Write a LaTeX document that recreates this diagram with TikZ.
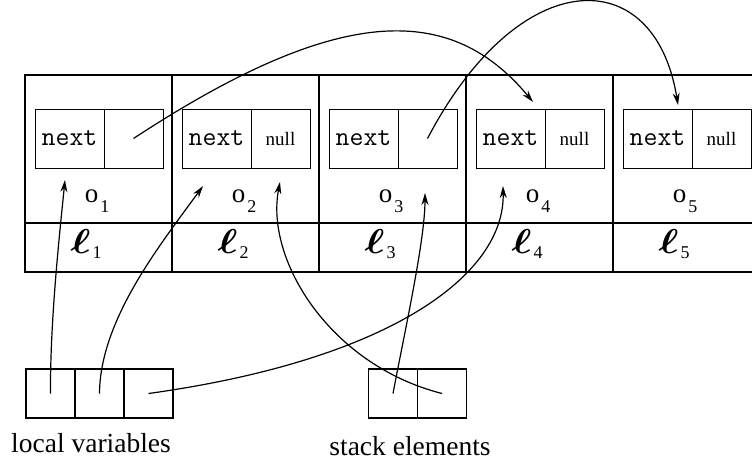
\RequirePackage{fix-cm}
\documentclass[tikz,border=0pt]{standalone}
\usepackage{graphicx}
\usepackage{bm}
\usepackage{fontspec}
\setmainfont{Liberation Serif}
\usetikzlibrary{arrows.meta,positioning}

\newcommand{\objname}[1]{o\hspace{2pt}\raisebox{-10pt}{\fontsize{18}{20}\selectfont #1}}
\newcommand{\locname}[1]{\resizebox{20pt}{24pt}{$\bm{\ell}$}\hspace{2pt}\raisebox{-5pt}{\fontsize{18}{20}\selectfont #1}}

\begin{document}
\begin{tikzpicture}[x=1pt,y=-1pt,->,>={Stealth[length=12pt,width=7pt]},
    line width=1.2pt,node distance=147pt]
  \tikzstyle{objcell}=[draw,rectangle,inner sep=0pt,line width=1.4pt,minimum width=147pt,minimum height=148pt]
  \tikzstyle{loccell}=[objcell,minimum height=49pt]
  \tikzstyle{field}=[draw,rectangle,inner sep=0pt,outer sep=0pt,line width=0.9pt,minimum height=59pt]
  \tikzstyle{ptrname}=[field,minimum width=69pt,font=\fontsize{27}{30}\selectfont\ttfamily]
  \tikzstyle{ptrval}=[field,minimum width=59pt,font=\fontsize{19}{22}\selectfont]
  \tikzstyle{slot}=[draw,rectangle,inner sep=0pt,outer sep=0pt,line width=1.2pt,minimum size=49pt]
  \tikzstyle{objlab}=[inner sep=0pt,font=\fontsize{27}{30}\selectfont]
  \tikzstyle{loclab}=[inner sep=0pt,font=\fontsize{24.88}{30}\selectfont]
  \tikzstyle{caption}=[inner sep=0pt,font=\fontsize{27.5}{32}\selectfont]

  \useasboundingbox (0,0) rectangle (752,463);

  % objects and their locations
  \node[objcell] (c1) at (98.5,149)  {};
  \node[objcell] (c2) [right of=c1] {};
  \node[objcell] (c3) [right of=c2] {};
  \node[objcell] (c4) [right of=c3] {};
  \node[objcell] (c5) [right of=c4] {};
  \node[loccell] (r1) at (98.5,247.5) {};
  \node[loccell] (r2) [right of=r1] {};
  \node[loccell] (r3) [right of=r2] {};
  \node[loccell] (r4) [right of=r3] {};
  \node[loccell] (r5) [right of=r4] {};

  \node[ptrname] (n1) at (69.5,138.5) {next};
  \node[ptrname] (n2) [right of=n1]   {next};
  \node[ptrname] (n3) [right of=n2]   {next};
  \node[ptrname] (n4) [right of=n3]   {next};
  \node[ptrname] (n5) [right of=n4]   {next};
  \node[ptrval]  (v1) [right=0pt of n1] {};
  \node[ptrval]  (v2) [right=0pt of n2] {null};
  \node[ptrval]  (v3) [right=0pt of n3] {};
  \node[ptrval]  (v4) [right=0pt of n4] {null};
  \node[ptrval]  (v5) [right=0pt of n5] {null};

  \node[objlab] (o1) at (97,201)    {\objname{1}};
  \node[objlab] (o2) [right of=o1] {\objname{2}};
  \node[objlab] (o3) [right of=o2] {\objname{3}};
  \node[objlab] (o4) [right of=o3] {\objname{4}};
  \node[objlab] (o5) [right of=o4] {\objname{5}};
  \node[loclab] (e1) at (86,244)    {\locname{1}};
  \node[loclab] (e2) [right of=e1] {\locname{2}};
  \node[loclab] (e3) [right of=e2] {\locname{3}};
  \node[loclab] (e4) [right of=e3] {\locname{4}};
  \node[loclab] (e5) [right of=e4] {\locname{5}};

  % roots
  \node[slot] (lv1) at (50.5,393.5)     {};
  \node[slot] (lv2) [right=0pt of lv1] {};
  \node[slot] (lv3) [right=0pt of lv2] {};
  \node[slot] (se1) at (393,393.5)      {};
  \node[slot] (se2) [right=0pt of se1] {};
  \node[caption] (lvtxt) at (91,443.5) {local variables};
  \node[caption] (setxt) at (410,446)  {stack elements};

  \coordinate (tip1) at (65,180);
  \coordinate (tip2) at (203,186);
  \coordinate (tip3) at (280,182);
  \coordinate (tip4) at (425,193);
  \coordinate (tip5) at (503,186);
  \coordinate (tip6) at (533,102);
  \coordinate (tip7) at (678,105);

  \draw (lv1.center) .. controls (50,320) and (60,230) .. (tip1);
  \draw (lv2.center) .. controls (100,320) and (160,245) .. (tip2);
  \draw (lv3.center) .. controls (390,360) and (505,275) .. (tip5);
  \draw (se1.center) .. controls (405,330) and (425,240) .. (tip4);
  \draw (se2.center) .. controls (330,365) and (265,260) .. (tip3);
  \draw (v1.center)  .. controls (340,3) and (451,3) .. (tip6);
  \draw (v3.center)  .. controls (520,-38) and (655,-38) .. (tip7);
\end{tikzpicture}
\end{document}
